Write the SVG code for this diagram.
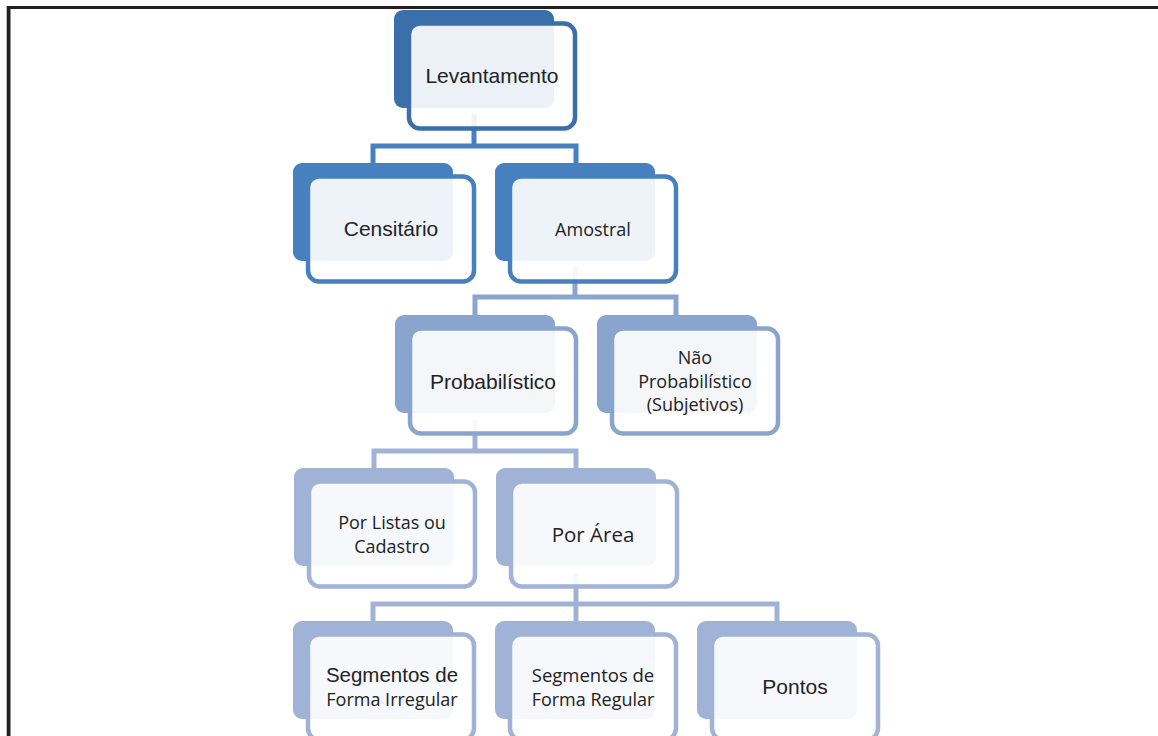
<svg xmlns="http://www.w3.org/2000/svg" width="1158" height="736" viewBox="0 0 1158 736">
<style>
.back{stroke:none}
.front{fill:#ffffff;fill-opacity:0.9;stroke-width:4.5}
.conn{fill:none;stroke-width:5;stroke-linejoin:miter;stroke-linecap:butt}
.ta{font-family:"Liberation Sans",Arial,sans-serif;font-size:21px;fill:#222;text-anchor:middle}
.tb{font-family:"Open Sans","Noto Sans",sans-serif;font-size:18px;fill:#222;text-anchor:middle}
</style>
<rect x="0" y="0" width="1158" height="736" fill="#ffffff"/>
<rect x="6" y="6" width="1" height="730" fill="#bbbbbb"/>
<rect x="7" y="6" width="1151" height="3" fill="#231f20"/>
<rect x="7" y="6" width="3.5" height="730" fill="#231f20"/>

<g id="connectors">
  <path class="conn" stroke="#4780be" d="M474 114 V146"/>
  <path class="conn" stroke="#4780be" d="M373 163 V146 H576 V163"/>
  <path class="conn" stroke="#8aa5cd" d="M575 267 V297"/>
  <path class="conn" stroke="#8aa5cd" d="M475 315 V297 H676 V315"/>
  <path class="conn" stroke="#a0b3d6" d="M475 420 V451"/>
  <path class="conn" stroke="#a0b3d6" d="M374 468 V451 H576 V468"/>
  <path class="conn" stroke="#a0b3d6" d="M576 573 V604"/>
  <path class="conn" stroke="#a0b3d6" d="M373 621 V604 H777 V621"/>
  <path class="conn" stroke="#a0b3d6" d="M576 604 V621"/>
</g>

<g id="levantamento">
  <rect class="back" x="394" y="10" width="160" height="98" rx="9" fill="#3b6faa"/>
  <rect class="front" x="409" y="23.5" width="166" height="105" rx="11" stroke="#3b6faa"/>
  <text class="ta" x="492" y="83">Levantamento</text>
</g>

<g id="censitario">
  <rect class="back" x="293" y="163" width="160" height="98" rx="9" fill="#4780be"/>
  <rect class="front" x="308" y="176.5" width="166" height="105" rx="11" stroke="#4780be"/>
  <text class="ta" x="391" y="236">Censitário</text>
</g>

<g id="amostral">
  <rect class="back" x="495" y="163" width="160" height="98" rx="9" fill="#4780be"/>
  <rect class="front" x="510" y="176.5" width="166" height="105" rx="11" stroke="#4780be"/>
  <text class="tb" x="593" y="236">Amostral</text>
</g>

<g id="probabilistico">
  <rect class="back" x="395" y="315" width="160" height="98" rx="9" fill="#8aa5cd"/>
  <rect class="front" x="410" y="328.5" width="166" height="105" rx="11" stroke="#8aa5cd"/>
  <text class="ta" x="493" y="389">Probabilístico</text>
</g>

<g id="nao-probabilistico">
  <rect class="back" x="597" y="315" width="160" height="98" rx="9" fill="#8aa5cd"/>
  <rect class="front" x="612" y="328.5" width="166" height="105" rx="11" stroke="#8aa5cd"/>
  <text class="tb" x="695" y="364">Não</text>
  <text class="tb" x="695" y="388">Probabilístico</text>
  <text class="tb" x="695" y="411">(Subjetivos)</text>
</g>

<g id="por-listas">
  <rect class="back" x="294" y="468" width="160" height="98" rx="9" fill="#a0b3d6"/>
  <rect class="front" x="309" y="481.5" width="166" height="105" rx="11" stroke="#a0b3d6"/>
  <text class="tb" x="392" y="529">Por Listas ou</text>
  <text class="tb" x="392" y="553">Cadastro</text>
</g>

<g id="por-area">
  <rect class="back" x="496" y="468" width="160" height="98" rx="9" fill="#a0b3d6"/>
  <rect class="front" x="511" y="481.5" width="166" height="105" rx="11" stroke="#a0b3d6"/>
  <text class="tb" x="593" y="542" style="font-size:20.5px">Por Área</text>
</g>

<g id="segmentos-irregular">
  <rect class="back" x="293" y="621" width="160" height="98" rx="9" fill="#a0b3d6"/>
  <rect class="front" x="308" y="634.5" width="166" height="105" rx="11" stroke="#a0b3d6"/>
  <text class="ta" x="392" y="682" style="font-size:20.5px">Segmentos de</text>
  <text class="tb" x="392" y="706">Forma Irregular</text>
</g>

<g id="segmentos-regular">
  <rect class="back" x="495" y="621" width="160" height="98" rx="9" fill="#a0b3d6"/>
  <rect class="front" x="510" y="634.5" width="166" height="105" rx="11" stroke="#a0b3d6"/>
  <text class="tb" x="593" y="682" style="font-size:18.5px">Segmentos de</text>
  <text class="tb" x="593" y="706">Forma Regular</text>
</g>

<g id="pontos">
  <rect class="back" x="697" y="621" width="160" height="98" rx="9" fill="#a0b3d6"/>
  <rect class="front" x="712" y="634.5" width="166" height="105" rx="11" stroke="#a0b3d6"/>
  <text class="ta" x="795" y="694">Pontos</text>
</g>
</svg>
